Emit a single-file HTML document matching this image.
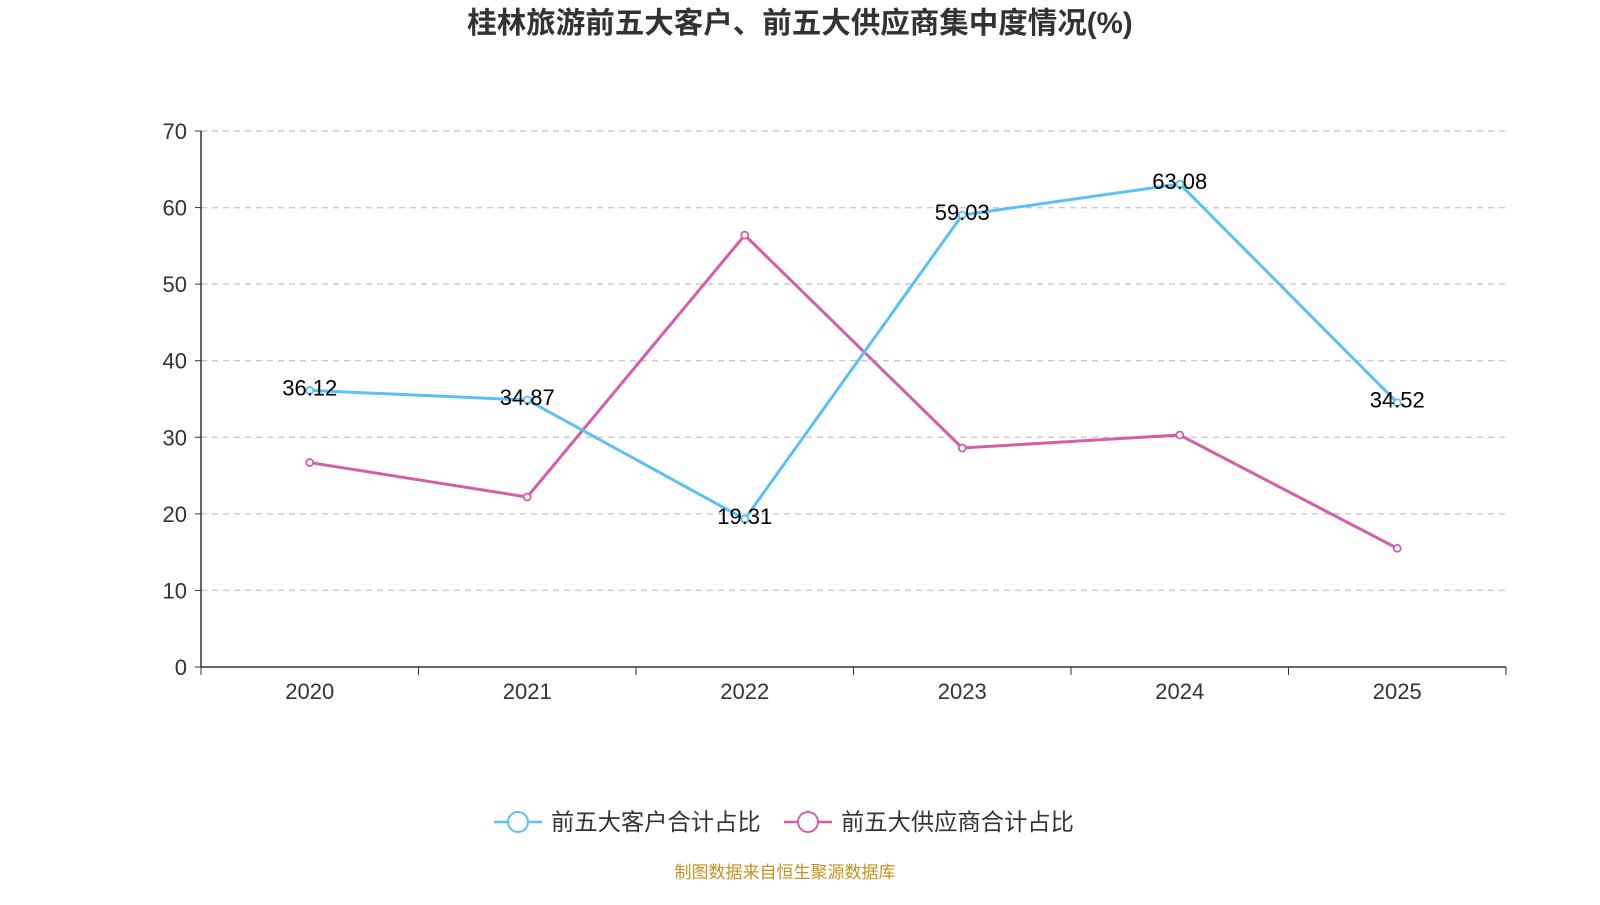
<!DOCTYPE html>
<html><head><meta charset="utf-8"><style>
body{margin:0;background:#fff;font-family:"Liberation Sans","Noto Sans CJK SC",sans-serif}
svg text{font-family:"Liberation Sans","Noto Sans CJK SC",sans-serif}
</style></head><body>
<svg id="chart" width="1600" height="900" xmlns="http://www.w3.org/2000/svg">
<text x="800" y="33" text-anchor="middle" font-size="29.5" font-weight="bold" fill="#333">桂林旅游前五大客户、前五大供应商集中度情况(%)</text>
<g id="grid"></g><g id="axes"></g><g id="series"></g>
<g>
<g>
<line x1="494" y1="822" x2="542" y2="822" stroke="#5bc0f5" stroke-width="2.5"/><circle cx="518" cy="822" r="10" fill="#fff" stroke="#5bc0f5" stroke-width="2"/>
<text x="551" y="830" font-size="23.3" fill="#333">前五大客户合计占比</text></g>
<g>
<line x1="784" y1="822" x2="832" y2="822" stroke="#d45ea8" stroke-width="2.5"/><circle cx="808" cy="822" r="10" fill="#fff" stroke="#d45ea8" stroke-width="2"/>
<text x="841" y="830" font-size="23.3" fill="#333">前五大供应商合计占比</text></g>
</g>
<text x="785" y="878" text-anchor="middle" font-size="17" fill="#c8901e">制图数据来自恒生聚源数据库</text>
</svg>
<script>
const categories=["2020","2021","2022","2023","2024","2025"];
const customers=[36.12,34.87,19.31,59.03,63.08,34.52];
const suppliers=[26.7,22.2,56.4,28.6,30.3,15.5];
const yTicks=[0,10,20,30,40,50,60,70];
const NS="http://www.w3.org/2000/svg";
const L=201,R=1506,T=131,B=667,yMax=70;
const band=(R-L)/categories.length;
const x=i=>L+band*(i+0.5);
const y=v=>B-(v/yMax)*(B-T);
function mk(tag,attrs,parent){const e=document.createElementNS(NS,tag);for(const k in attrs)e.setAttribute(k,attrs[k]);parent.appendChild(e);return e;}
const grid=document.getElementById('grid'),axes=document.getElementById('axes'),ser=document.getElementById('series');
yTicks.forEach(t=>{
 if(t>0){const g=mk('line',{x1:L,x2:R,y1:y(t),y2:y(t),stroke:'#ccc','stroke-dasharray':'6,5','stroke-width':1.5},grid);
 
 }
 mk('line',{x1:L-6,x2:L,y1:y(t),y2:y(t),stroke:'#333'},axes);
 const tx=mk('text',{x:L-14,y:y(t)+8,'text-anchor':'end','font-size':22,fill:'#333'},axes);tx.textContent=t;
 
 
});
mk('line',{x1:L,x2:L,y1:T,y2:B,stroke:'#333','stroke-width':1.5},axes);
mk('line',{x1:L,x2:R,y1:B,y2:B,stroke:'#333','stroke-width':1.5},axes);
for(let i=0;i<=categories.length;i++)mk('line',{x1:L+band*i,x2:L+band*i,y1:B,y2:B+8,stroke:'#333'},axes);
categories.forEach((c,i)=>{const tx=mk('text',{x:x(i),y:B+32,'text-anchor':'middle','font-size':22,fill:'#333'},axes);tx.textContent=c;
 
 });
function draw(vals,color,name,labels){
 const p=mk('polyline',{points:vals.map((v,i)=>x(i)+','+y(v)).join(' '),fill:'none',stroke:color,'stroke-width':3},ser);
 
 
 vals.forEach((v,i)=>{const c=mk('circle',{cx:x(i),cy:y(v),r:3.5,fill:'#fff',stroke:color,'stroke-width':1.8},ser);
  
  
  if(labels){const t=mk('text',{x:x(i),y:y(v)+5,'text-anchor':'middle','font-size':22,fill:'#000'},ser);t.textContent=v.toFixed(2);
  
  }
 });
}
draw(suppliers,'#d45ea8','suppliers',false);
draw(customers,'#5bc0f5','customers',true);
</script>
</body></html>
